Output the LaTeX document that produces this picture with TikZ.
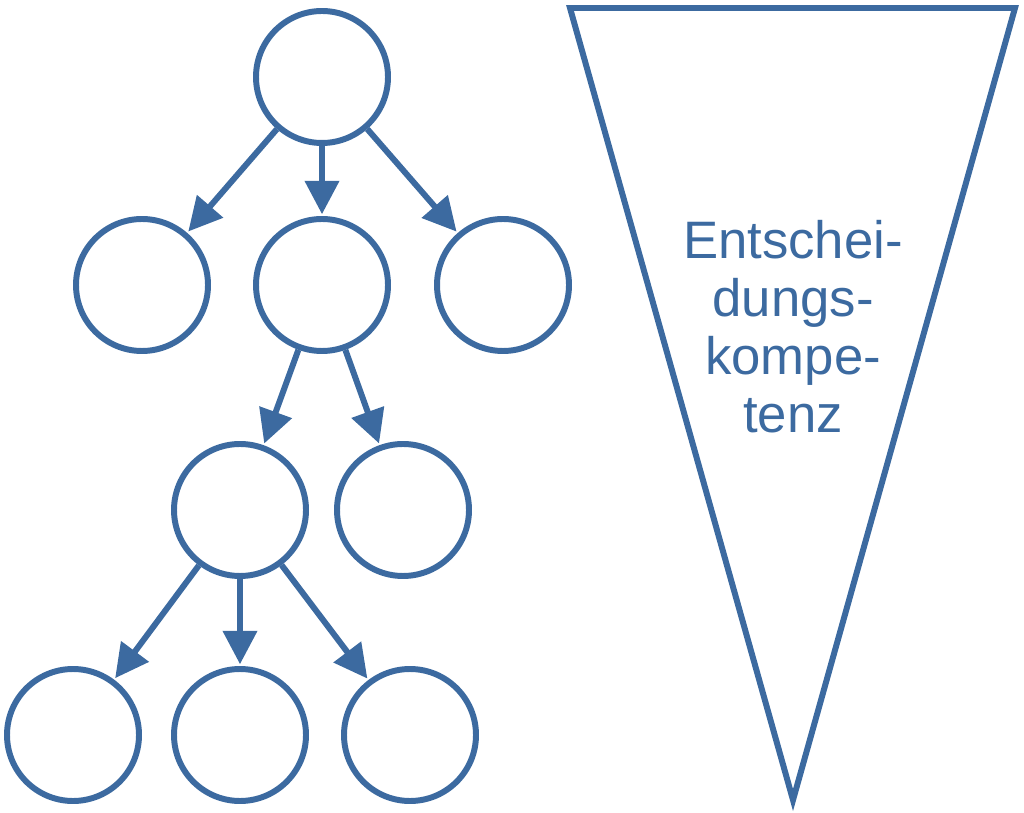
\documentclass[tikz,border=0pt]{standalone}
\usepackage{fontspec}
\setmainfont{Liberation Sans}
\usetikzlibrary{arrows.meta}
\definecolor{blu}{RGB}{60,106,160}
\begin{document}
\begin{tikzpicture}[x=0.02cm,y=-0.02cm,
  circ/.style={circle,draw=blu,line width=3.4pt,minimum size=132*0.02cm,inner sep=0pt},
  arr/.style={draw=blu,line width=3.4pt,-{Triangle[length=19pt,width=19pt]},shorten >=1pt}]
\useasboundingbox (0,0) rectangle (1024,813);
\node[circ] (a) at (322,77) {};
\node[circ] (b1) at (142,285) {};
\node[circ] (b2) at (322,285) {};
\node[circ] (b3) at (503,285) {};
\node[circ] (c1) at (240,510) {};
\node[circ] (c2) at (403,510) {};
\node[circ] (d1) at (73,735) {};
\node[circ] (d2) at (240,735) {};
\node[circ] (d3) at (410,735) {};
\draw[arr] (a) -- (b1);
\draw[arr] (a) -- (b2);
\draw[arr] (a) -- (b3);
\draw[arr] (b2) -- (c1);
\draw[arr] (b2) -- (c2);
\draw[arr] (c1) -- (d1);
\draw[arr] (c1) -- (d2);
\draw[arr] (c1) -- (d3);
\draw[blu,line width=3.4pt,line join=miter] (570,8) -- (1015,8) -- (793,800) -- cycle;
\node[text=blu,font=\fontsize{30}{33}\selectfont,align=center] (t) at (793,327) {Entschei-\\dungs-\\kompe-\\tenz};
\end{tikzpicture}
\end{document}
